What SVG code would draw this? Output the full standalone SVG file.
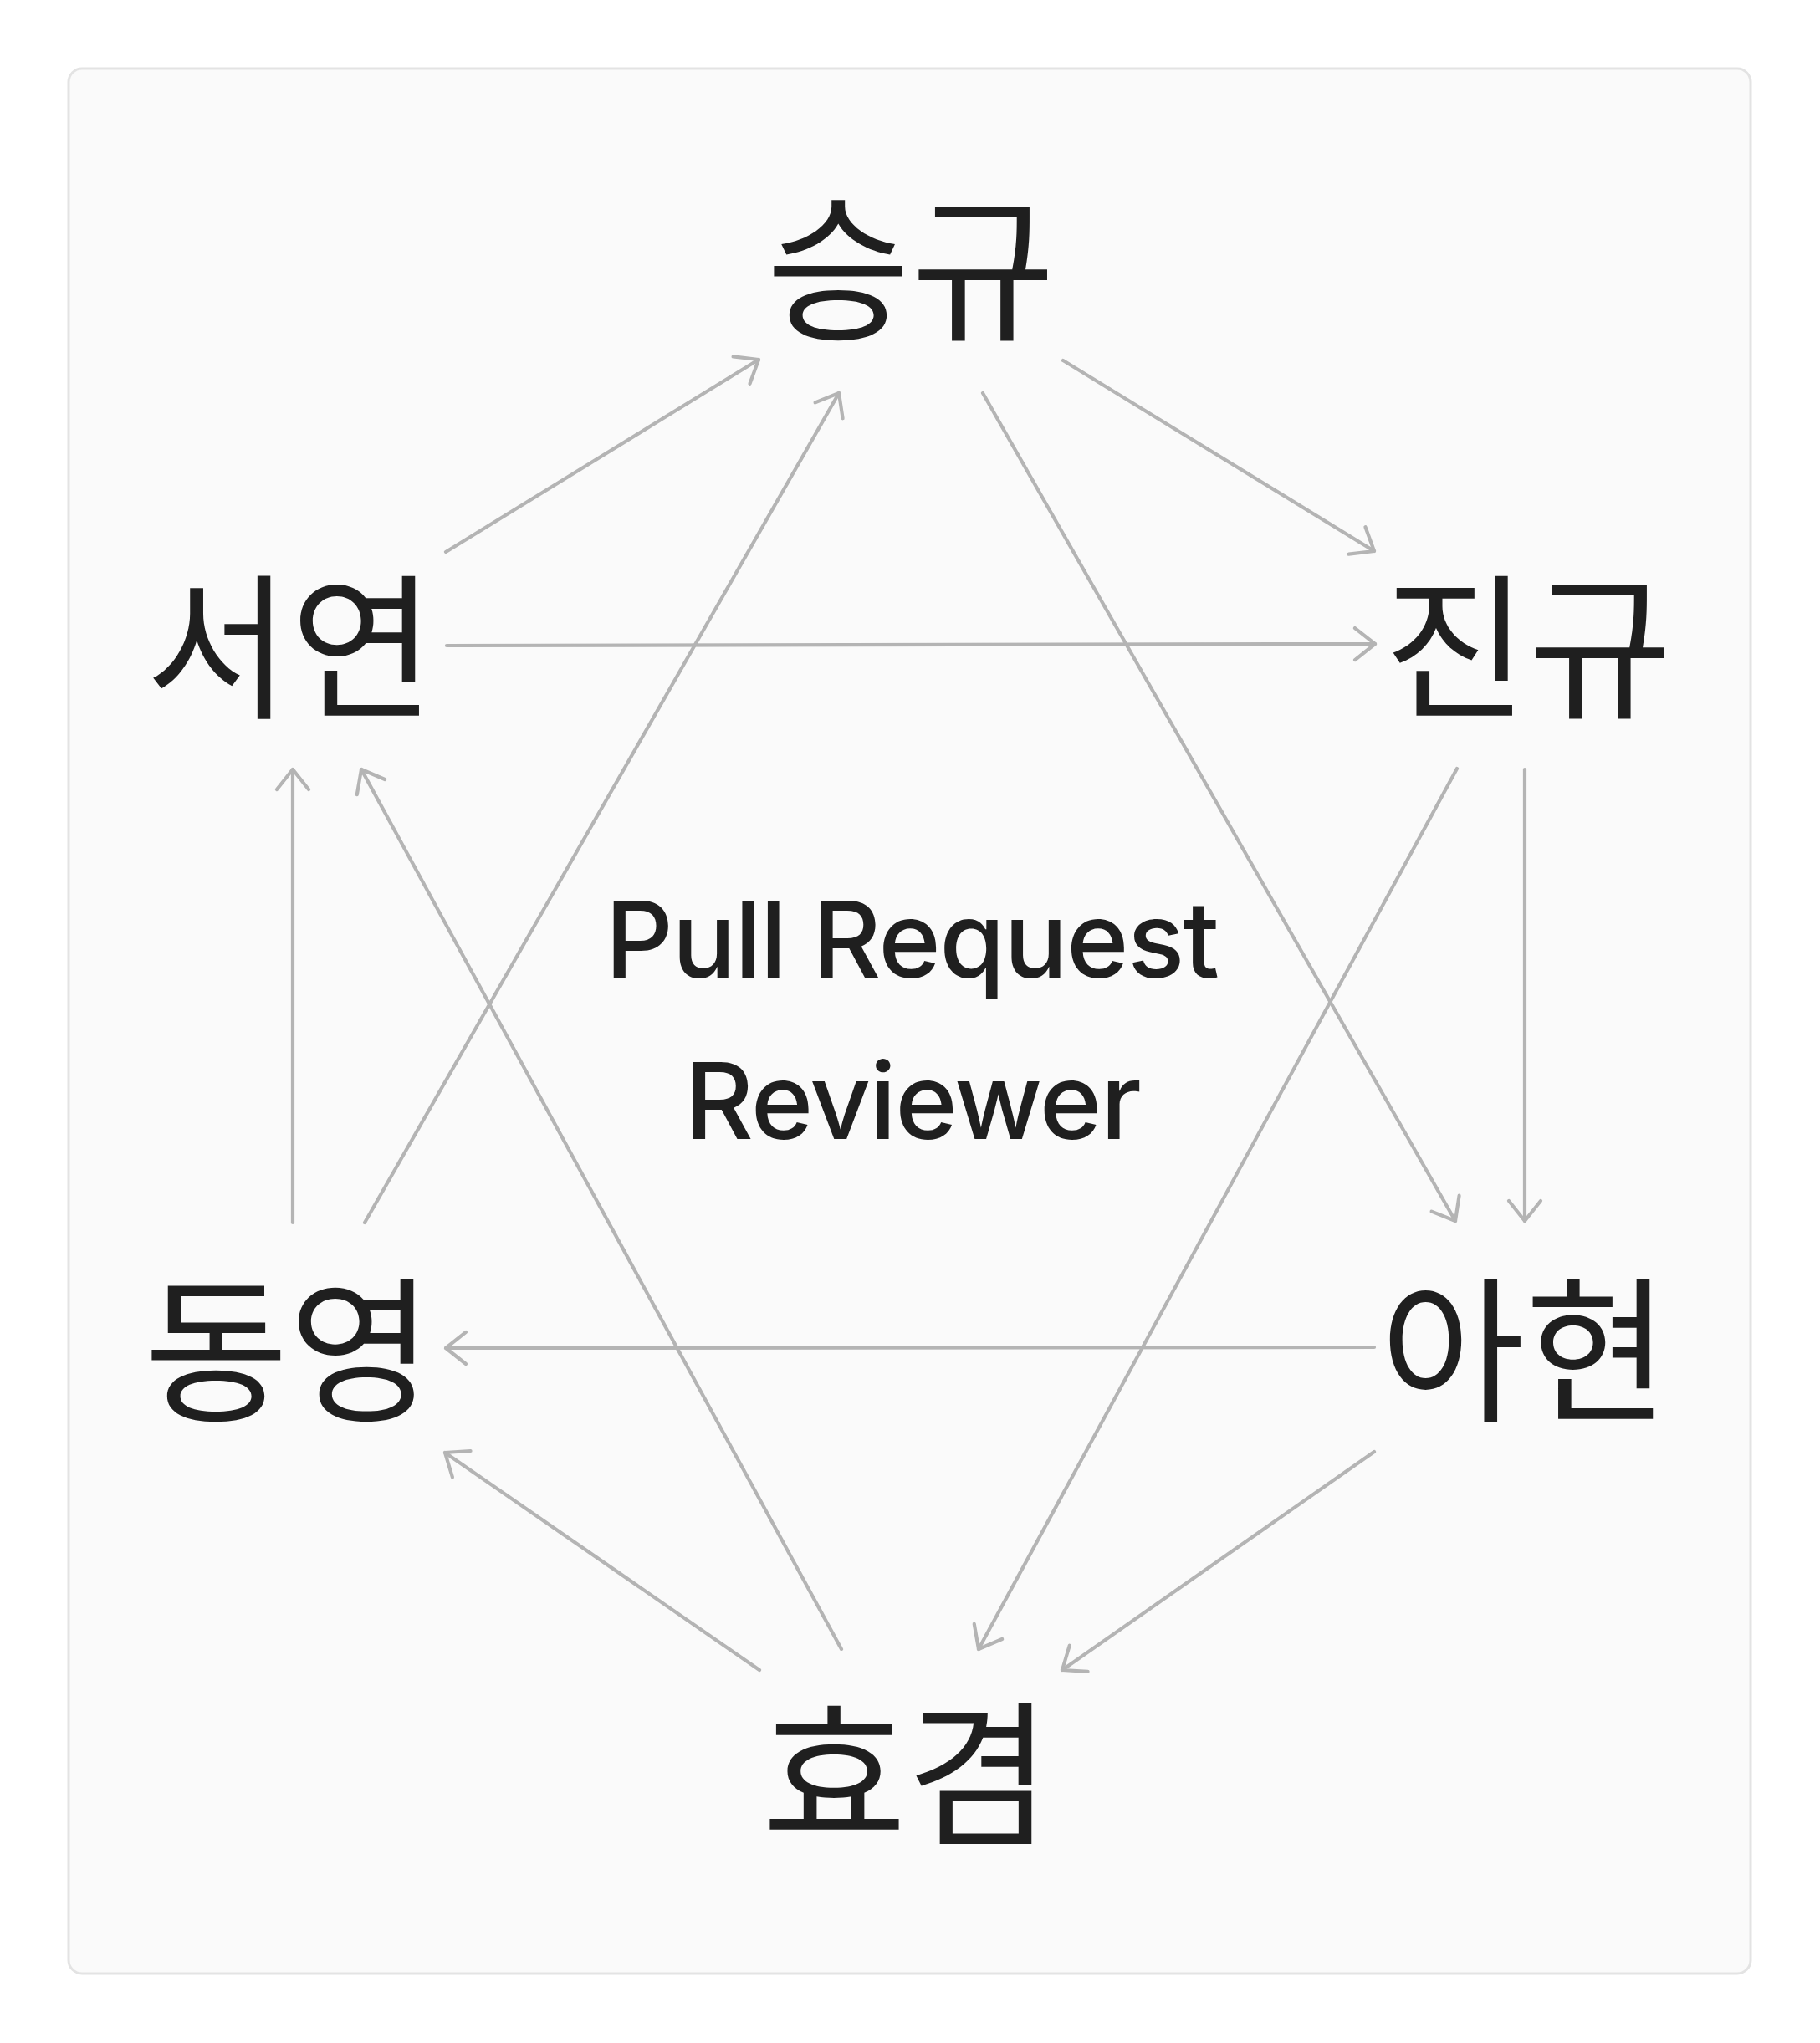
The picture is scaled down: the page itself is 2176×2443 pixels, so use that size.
<svg xmlns="http://www.w3.org/2000/svg" width="2176" height="2443" viewBox="0 0 2176 2443">
<defs>
<style>
.bg{fill:#ffffff}
.frame{fill:#fafafa;stroke:#e3e3e3;stroke-width:3}
.edge{fill:none;stroke:#b4b4b4;stroke-width:4.2;stroke-linecap:round;marker-end:url(#arr)}
.node{font-family:"Noto Sans CJK KR","Noto Sans",sans-serif;font-size:188px;fill:#1f1f1f;text-anchor:middle}
.center{font-family:Inter,"Liberation Sans",sans-serif;font-size:127px;font-weight:500;letter-spacing:-1.6px;fill:#1f1f1f;text-anchor:middle}
</style>
<marker id="arr" markerUnits="userSpaceOnUse" orient="auto" refX="0" refY="0" markerWidth="60" markerHeight="60" viewBox="-40 -30 60 60" overflow="visible">
<path d="M-24,-19 L0,0 L-24,19" fill="none" stroke="#b4b4b4" stroke-width="4.2" stroke-linecap="round" stroke-linejoin="round"/>
</marker>
</defs>
<rect class="bg" x="0" y="0" width="2176" height="2443"/>
<rect class="frame" x="82" y="82" width="2011" height="2278" rx="16"/>
<g id="connectors">
<line class="edge" x1="533" y1="660" x2="907" y2="430"/>
<line class="edge" x1="436" y1="1462" x2="1003" y2="470"/>
<line class="edge" x1="1175" y1="470" x2="1740" y2="1460"/>
<line class="edge" x1="1271" y1="431" x2="1643" y2="659"/>
<line class="edge" x1="534" y1="772" x2="1644" y2="770"/>
<line class="edge" x1="1742" y1="919" x2="1170" y2="1972"/>
<line class="edge" x1="1823" y1="920" x2="1823" y2="1460"/>
<line class="edge" x1="1643" y1="1611" x2="533" y2="1612"/>
<line class="edge" x1="1643" y1="1736" x2="1270" y2="1997"/>
<line class="edge" x1="908" y1="1997" x2="532" y2="1737"/>
<line class="edge" x1="1006" y1="1972" x2="432" y2="920"/>
<line class="edge" x1="350" y1="1462" x2="350" y2="920"/>
</g>
<g id="node-seunggyu"><text class="node" x="1089" y="392">승규</text></g>
<g id="node-seoyeon"><text class="node" x="347" y="844">서연</text></g>
<g id="node-jingyu"><text class="node" x="1827" y="844">진규</text></g>
<g id="node-dongyoung"><text class="node" x="345" y="1685">동영</text></g>
<g id="node-ahyeon"><text class="node" x="1823" y="1685">아현</text></g>
<g id="node-hyogyeom"><text class="node" x="1084" y="2192">효겸</text></g>
<g id="center-label">
<text class="center" x="1090" y="1169">Pull Request</text>
<text class="center" x="1091" y="1362">Reviewer</text>
</g>
</svg>
